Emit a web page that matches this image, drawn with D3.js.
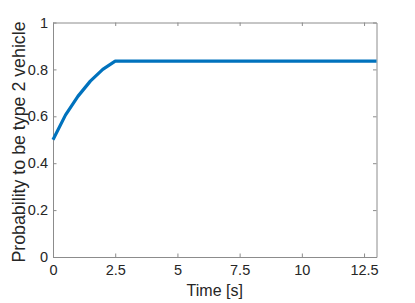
<!DOCTYPE html>
<html>
<head>
<meta charset="utf-8">
<script src="https://cdn.jsdelivr.net/npm/d3@7"></script>
<style>
  body { margin: 0; background: #fff; }
  svg { display: block; }
  text { font-family: "Liberation Sans", Arial, sans-serif; fill: #262626; }
</style>
</head>
<body>
<svg id="chart" width="415" height="303"></svg>
<script>
const WIDTH = 415;
const HEIGHT = 303;
const MARGIN = { top: 22.5, right: 38.5, bottom: 46, left: 53 };
const LINE_COLOR = '#0072bd';
const AXIS_COLOR = '#8c8c8c';
const TICK_FONT = 14.5;

// data
const times = [0, 0.5, 1, 1.5, 2, 2.5, 13];
const probabilities = [0.5, 0.605, 0.685, 0.75, 0.8, 0.835, 0.835];
const xTicks = [0, 2.5, 5, 7.5, 10, 12.5];
const yTicks = [0, 0.2, 0.4, 0.6, 0.8, 1];
const xLabel = 'Time [s]';
const yLabel = 'Probability to be type 2 vehicle';

const svg = d3.select('#chart');
const innerW = WIDTH - MARGIN.left - MARGIN.right;
const innerH = HEIGHT - MARGIN.top - MARGIN.bottom;

const x = d3.scaleLinear().domain([0, 13]).range([MARGIN.left, MARGIN.left + innerW]);
const y = d3.scaleLinear().domain([0, 1]).range([MARGIN.top + innerH, MARGIN.top]);

const tickFmt = (d) => String(d);

// box axes, ticks point inward
const bottomAxis = svg.append('g').attr('transform', `translate(0,${y(0)})`)
    .call(d3.axisBottom(x).tickValues(xTicks).tickFormat(tickFmt).tickSizeInner(-3.5).tickSizeOuter(0).tickPadding(8));
const topAxis = svg.append('g').attr('transform', `translate(0,${y(1)})`)
    .call(d3.axisTop(x).tickValues(xTicks).tickFormat('').tickSizeInner(-3.5).tickSizeOuter(0));
const leftAxis = svg.append('g').attr('transform', `translate(${x(0)},0)`)
    .call(d3.axisLeft(y).tickValues(yTicks).tickFormat(tickFmt).tickSizeInner(-3.5).tickSizeOuter(0).tickPadding(5));
const rightAxis = svg.append('g').attr('transform', `translate(${x(13)},0)`)
    .call(d3.axisRight(y).tickValues(yTicks).tickFormat('').tickSizeInner(-3.5).tickSizeOuter(0));

[bottomAxis, topAxis, leftAxis, rightAxis].forEach((g) => {
    g.select('.domain').attr('stroke', AXIS_COLOR);
    g.selectAll('.tick line').attr('stroke', AXIS_COLOR);
    g.selectAll('.tick text').attr('font-size', TICK_FONT).attr('font-family', null).attr('fill', '#262626');
});
bottomAxis.selectAll('.tick text').attr('dy', '0.71em');

// line
const line = d3.line().x((d, i) => x(times[i])).y((d) => y(d));
svg.append('path')
    .datum(probabilities)
    .attr('fill', 'none')
    .attr('stroke', LINE_COLOR)
    .attr('stroke-width', 3.2)
    .attr('stroke-linejoin', 'round')
    .attr('d', line);

// axis labels
svg.append('text')
    .attr('x', MARGIN.left + innerW / 2)
    .attr('y', 296)
    .attr('text-anchor', 'middle')
    .attr('font-size', 16)
    .text(xLabel);

svg.append('text')
    .attr('transform', `translate(25,142) rotate(-90)`)
    .attr('text-anchor', 'middle')
    .attr('font-size', 17.8)
    .text(yLabel);
</script>
</body>
</html>
